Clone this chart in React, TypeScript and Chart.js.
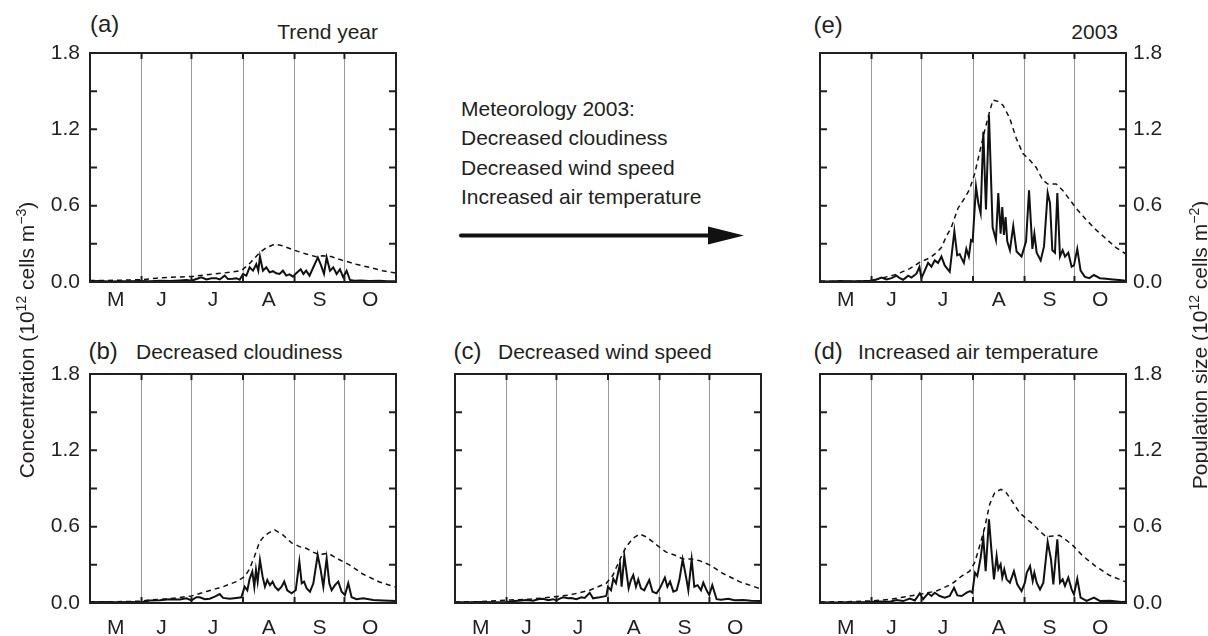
import React, { useEffect, useRef } from "react";
import { Chart, registerables } from "chart.js";

Chart.register(...registerables);

// ---------- axes ----------
const monthLabels = ["M", "J", "J", "A", "S", "O"];
const monthLabelDays = [15.5, 43, 74, 107.5, 138, 168.5];
const monthBoundaryDays = [31, 61, 92, 123, 153];
const dayMin = 0;
const dayMax = 184;
const yMin = 0;
const yMax = 1.8;
const yLabelTicks = [0, 0.6, 1.2, 1.8];
const yMinorTicks = [0.3, 0.6, 0.9, 1.2, 1.5];

// ---------- data: [day since 1 May, value] ----------
// (a) Trend year
const aSolid = [[0,0.005],[6,0.007],[12,0.004],[18,0.006],[24,0.005],[30,0.008],[36,0.006],[42,0.01],[48,0.008],[54,0.012],[58,0.015],[61,0.01],[64,0.023],[67,0.036],[70,0.02],[73,0.03],[76,0.029],[78,0.02],[81,0.05],[83,0.023],[86,0.025],[88,0.03],[90,0.018],[92,0.063],[94,0.05],[96,0.115],[98,0.089],[100,0.14],[101.2,0.089],[102.2,0.2],[104,0.089],[106,0.115],[108,0.076],[110,0.085],[112,0.068],[114,0.063],[116,0.089],[118,0.05],[120,0.06],[122,0.042],[124,0.068],[126.7,0.1],[128.3,0.063],[130,0.089],[132,0.05],[134.7,0.128],[137,0.193],[139,0.128],[140.7,0.063],[142.3,0.193],[144.3,0.089],[146.3,0.115],[148.3,0.063],[150.3,0.1],[152.3,0.037],[154.3,0.089],[156.3,0.016],[159,0.01],[163,0.012],[168,0.008],[174,0.01],[179,0.006],[184,0.005]];
const aDashed = [[0,0.012],[15,0.013],[31,0.018],[40,0.03],[48,0.037],[61,0.044],[70,0.057],[80,0.07],[91,0.089],[96,0.146],[102,0.23],[106,0.27],[111,0.297],[116,0.284],[122,0.253],[130,0.22],[136,0.198],[140,0.206],[145,0.2],[152,0.17],[160,0.14],[168,0.115],[176,0.089],[184,0.07]];

// (b) Decreased cloudiness
const bSolid = [[0,0.006],[8,0.008],[16,0.005],[24,0.007],[31,0.006],[36,0.02],[42,0.022],[48,0.03],[54,0.028],[58,0.037],[61,0.02],[64,0.045],[66,0.045],[69,0.03],[72,0.034],[75,0.05],[78,0.07],[80,0.04],[84,0.034],[88,0.04],[91,0.045],[93,0.128],[94.6,0.1],[96,0.19],[97.6,0.246],[98.8,0.128],[99.8,0.26],[100.8,0.168],[102.2,0.338],[103.8,0.207],[105.2,0.128],[106.6,0.18],[108.2,0.14],[109.8,0.168],[111.2,0.128],[113.2,0.1],[115.2,0.128],[116.8,0.168],[118.6,0.1],[121.2,0.076],[123.7,0.1],[125.9,0.325],[127.3,0.155],[128.7,0.168],[130.3,0.115],[132.3,0.089],[134.3,0.155],[136.9,0.377],[138.7,0.26],[140.3,0.128],[142.3,0.35],[143.9,0.155],[145.3,0.1],[147.3,0.14],[149.3,0.168],[151.3,0.089],[153.3,0.063],[155.3,0.155],[157.3,0.045],[160.3,0.03],[164.3,0.037],[170.3,0.024],[176,0.02],[184,0.015]];
const bDashed = [[0,0.01],[15,0.01],[31,0.014],[36,0.024],[48,0.034],[61,0.055],[70,0.09],[80,0.128],[88,0.168],[93,0.207],[96,0.27],[99,0.37],[102,0.48],[105,0.53],[108,0.555],[111,0.574],[116,0.535],[121,0.475],[126,0.443],[130,0.43],[134,0.4],[138,0.38],[142,0.388],[145,0.377],[150,0.34],[156,0.3],[164,0.228],[174,0.165],[184,0.125]];

// (c) Decreased wind speed
const cSolid = [[0,0.006],[8,0.005],[16,0.007],[24,0.005],[31,0.008],[36,0.015],[40,0.02],[43,0.024],[47,0.018],[50,0.03],[53,0.034],[56,0.022],[59,0.03],[61,0.02],[63,0.035],[65,0.045],[68,0.037],[70,0.04],[73,0.03],[76,0.045],[78,0.04],[81,0.08],[83,0.037],[85,0.042],[87,0.045],[89,0.05],[91,0.055],[92,0.128],[93.8,0.1],[95.2,0.19],[96.8,0.155],[98.2,0.246],[99.2,0.31],[100.2,0.128],[101.8,0.37],[103.2,0.233],[104.4,0.115],[105.8,0.18],[107.2,0.22],[108.8,0.128],[110.2,0.186],[111.8,0.115],[113.8,0.1],[116.8,0.18],[118.8,0.089],[121.2,0.076],[123.2,0.115],[126.2,0.2],[127.7,0.128],[129.3,0.168],[131.3,0.089],[133.3,0.1],[134.9,0.18],[136.9,0.343],[138.9,0.207],[140.3,0.1],[142.3,0.343],[143.9,0.128],[145.9,0.14],[147.9,0.1],[149.3,0.16],[151.3,0.1],[152.9,0.063],[154.7,0.14],[157.3,0.03],[160,0.025],[164.3,0.034],[168,0.022],[173.3,0.024],[178,0.018],[184,0.015]];
const cDashed = [[0,0.008],[15,0.01],[33,0.024],[45,0.03],[57,0.045],[69,0.063],[81,0.1],[91,0.155],[95,0.22],[99,0.338],[103,0.443],[107,0.508],[111,0.542],[115,0.52],[119,0.48],[123,0.438],[127,0.4],[132,0.377],[137,0.346],[142,0.346],[147,0.333],[153,0.3],[161,0.233],[171,0.168],[184,0.11]];

// (d) Increased air temperature
const dSolid = [[0,0.006],[8,0.004],[16,0.006],[24,0.005],[30,0.008],[36,0.012],[42,0.01],[46,0.024],[50,0.015],[54,0.034],[57,0.02],[60,0.076],[62,0.03],[65,0.076],[67,0.055],[69,0.081],[72,0.055],[75,0.042],[78,0.055],[80.6,0.12],[82.6,0.06],[85.2,0.055],[88.2,0.081],[90.2,0.094],[91.6,0.081],[93.2,0.238],[94.6,0.212],[96.6,0.356],[98.2,0.514],[99.6,0.25],[101.6,0.658],[103.2,0.396],[104.6,0.186],[106.2,0.37],[107.2,0.265],[108.6,0.304],[109.6,0.2],[110.8,0.265],[112.2,0.186],[114.2,0.16],[116.6,0.25],[118.6,0.147],[121.2,0.094],[123.2,0.16],[124.3,0.238],[126.3,0.29],[127.9,0.173],[128.9,0.238],[130.3,0.16],[132.3,0.107],[134.3,0.16],[136.9,0.48],[138.9,0.343],[140.3,0.147],[142.7,0.5],[144.3,0.16],[145.9,0.186],[147.3,0.134],[149.3,0.2],[151.3,0.107],[152.7,0.068],[154.7,0.19],[156.7,0.042],[160.3,0.016],[164.7,0.042],[168.3,0.016],[174.3,0.018],[181.4,0.008],[184,0.01]];
const dDashed = [[0,0.008],[15,0.01],[30,0.016],[42,0.029],[52,0.05],[60,0.068],[70,0.094],[79,0.147],[85,0.21],[90,0.25],[93,0.317],[96,0.448],[99,0.59],[102,0.775],[105,0.867],[108.8,0.894],[112,0.867],[116,0.79],[120,0.71],[124,0.663],[128,0.62],[132,0.566],[136,0.52],[140,0.527],[144,0.532],[148,0.495],[152,0.453],[158,0.37],[166,0.286],[174,0.218],[184,0.165]];

// (e) 2003
const eSolid = [[0,0.006],[6,0.004],[12,0.008],[18,0.005],[24,0.006],[30,0.01],[34,0.02],[37,0.035],[40,0.02],[43,0.03],[46,0.05],[48,0.03],[50,0.018],[53,0.05],[55,0.035],[58,0.065],[59.8,0.118],[61,0.03],[63,0.09],[65,0.15],[67,0.12],[69,0.17],[71,0.15],[73,0.2],[75,0.13],[78,0.08],[80.8,0.4],[82.5,0.21],[84,0.22],[85,0.19],[86.5,0.15],[88,0.26],[89.5,0.2],[90.8,0.33],[91.8,0.32],[93.8,0.75],[95.2,0.62],[96.6,0.54],[98.2,1.18],[99.8,0.57],[101.6,1.31],[103.8,0.43],[105.8,0.33],[107.2,0.7],[108.6,0.38],[109.6,0.59],[110.6,0.37],[111.6,0.51],[112.6,0.32],[114.2,0.25],[116.2,0.44],[118.2,0.24],[121.2,0.2],[123.9,0.32],[125.7,0.72],[127.7,0.26],[128.9,0.38],[130.3,0.23],[132.7,0.17],[134.7,0.28],[136.9,0.7],[138.3,0.62],[139.7,0.25],[141.3,0.23],[142.7,0.7],[144.3,0.2],[145.9,0.25],[147.3,0.2],[149.3,0.23],[151.3,0.12],[152.7,0.13],[154.7,0.26],[156.7,0.09],[159.3,0.04],[162,0.03],[164.7,0.055],[168.3,0.03],[172,0.025],[176,0.02],[180,0.015],[184,0.01]];
const eDashed = [[0,0.005],[20,0.006],[31,0.01],[38,0.034],[46,0.06],[54,0.105],[60,0.155],[66,0.19],[70,0.23],[73,0.27],[76,0.36],[79,0.43],[83,0.58],[87,0.66],[90,0.73],[93,0.85],[96,1.02],[99,1.19],[102,1.34],[104,1.43],[107,1.42],[110,1.39],[114,1.29],[118,1.13],[122,1.01],[126,0.96],[130,0.9],[134,0.8],[137,0.77],[142,0.77],[146,0.72],[150,0.65],[154,0.58],[160,0.49],[166,0.41],[172,0.34],[178,0.27],[184,0.22]];

// ---------- styling ----------
const FONT = '"Liberation Sans", Arial, Helvetica, sans-serif';
const INK = "#231f20";
const CANVAS_W = 416;
const CANVAS_H = 279;
const AXIS_L = 60;
const AXIS_R = 50;
const PAD_TOP = 10;
const X_AXIS_H = 40;

const zeroPadding = (s: any) => {
  s.paddingTop = 0;
  s.paddingBottom = 0;
  s.paddingLeft = 0;
  s.paddingRight = 0;
};

const framePlugin = {
  id: "frameTicks",
  afterDatasetsDraw(chart: any) {
    const { ctx, chartArea: a, scales } = chart;
    const xs = scales.x;
    const ys = scales.y;
    ctx.save();
    ctx.strokeStyle = INK;
    ctx.lineWidth = 2;
    ctx.strokeRect(a.left, a.top, a.right - a.left, a.bottom - a.top);
    ctx.beginPath();
    monthBoundaryDays.forEach((d) => {
      const px = xs.getPixelForValue(d);
      ctx.moveTo(px, a.top);
      ctx.lineTo(px, a.top + 6);
      ctx.moveTo(px, a.bottom);
      ctx.lineTo(px, a.bottom - 6);
    });
    yMinorTicks.forEach((v) => {
      const py = ys.getPixelForValue(v);
      ctx.moveTo(a.left, py);
      ctx.lineTo(a.left + 7, py);
      ctx.moveTo(a.right, py);
      ctx.lineTo(a.right - 7, py);
    });
    ctx.stroke();
    ctx.restore();
  },
};

type PanelProps = {
  left: number;
  top: number;
  solid: number[][];
  dashed: number[][];
  axis: "left" | "right" | "none";
  monthPad: number;
};

function Panel({ left, top, solid, dashed, axis, monthPad }: PanelProps) {
  const ref = useRef<HTMLCanvasElement>(null);
  useEffect(() => {
    const onRight = axis === "right";
    const chart = new Chart(ref.current as HTMLCanvasElement, {
      type: "line",
      data: {
        datasets: [
          {
            data: dashed.map(([d, v]) => ({ x: d, y: v })),
            borderColor: "#111",
            borderWidth: 1.5,
            borderDash: [5, 4],
            pointRadius: 0,
            tension: 0,
            fill: false,
          },
          {
            data: solid.map(([d, v]) => ({ x: d, y: v })),
            borderColor: "#111",
            borderWidth: 2,
            pointRadius: 0,
            tension: 0,
            fill: false,
          },
        ],
      },
      options: {
        animation: false,
        responsive: false,
        events: [],
        layout: {
          padding: {
            left: onRight ? AXIS_L : 0,
            right: onRight ? 0 : AXIS_R,
            top: PAD_TOP,
            bottom: 0,
          },
        },
        plugins: { legend: { display: false }, tooltip: { enabled: false } },
        scales: {
          x: {
            type: "linear",
            position: "bottom",
            min: dayMin,
            max: dayMax,
            grid: { display: false, drawTicks: false },
            border: { display: false },
            afterBuildTicks: (s: any) => {
              s.ticks = monthLabelDays.map((v) => ({ value: v }));
            },
            afterFit: (s: any) => {
              s.height = X_AXIS_H;
              zeroPadding(s);
            },
            ticks: {
              autoSkip: false,
              maxRotation: 0,
              minRotation: 0,
              padding: monthPad,
              color: INK,
              font: { family: FONT, size: 21 },
              callback: (_v: any, i: number) => monthLabels[i],
            },
          },
          x2: {
            type: "linear",
            position: "top",
            min: dayMin,
            max: dayMax,
            afterBuildTicks: (s: any) => {
              s.ticks = monthBoundaryDays.map((v) => ({ value: v }));
            },
            afterFit: (s: any) => {
              s.height = 0;
              zeroPadding(s);
            },
            ticks: { display: false },
            grid: { color: "#9a9a9a", lineWidth: 1, drawTicks: false },
            border: { display: false },
          },
          y: {
            type: "linear",
            position: onRight ? "right" : "left",
            min: yMin,
            max: yMax,
            afterBuildTicks: (s: any) => {
              s.ticks = yLabelTicks.map((v) => ({ value: v }));
            },
            afterFit: (s: any) => {
              s.width = onRight ? AXIS_R : AXIS_L;
              zeroPadding(s);
            },
            grid: { display: false, drawTicks: false },
            border: { display: false },
            ticks: {
              display: axis !== "none",
              padding: onRight ? 7 : 10,
              color: INK,
              font: { family: FONT, size: 21 },
              callback: (v: any) => Number(v).toFixed(1),
            },
          },
        },
      } as any,
      plugins: [framePlugin],
    });
    return () => chart.destroy();
  }, []);
  return (
    <canvas
      ref={ref}
      width={CANVAS_W}
      height={CANVAS_H}
      style={{ position: "absolute", left, top, width: CANVAS_W, height: CANVAS_H }}
    />
  );
}

const txt: React.CSSProperties = {
  position: "absolute",
  fontFamily: FONT,
  fontSize: 21,
  lineHeight: "21px",
  color: INK,
  whiteSpace: "nowrap",
};
const tag: React.CSSProperties = { ...txt, fontSize: 24, lineHeight: "24px" };
const sup: React.CSSProperties = { fontSize: 14, lineHeight: 0, verticalAlign: "8px" };

export default function App() {
  return (
    <div
      style={{
        position: "fixed",
        left: 0,
        top: 0,
        width: 1208,
        height: 636,
        overflow: "hidden",
        background: "#fff",
      }}
    >
      <Panel left={30} top={43} solid={aSolid} dashed={aDashed} axis="left" monthPad={6} />
      <Panel left={760} top={43} solid={eSolid} dashed={eDashed} axis="right" monthPad={6} />
      <Panel left={30} top={364} solid={bSolid} dashed={bDashed} axis="left" monthPad={13} />
      <Panel left={395} top={364} solid={cSolid} dashed={cDashed} axis="none" monthPad={13} />
      <Panel left={760} top={364} solid={dSolid} dashed={dDashed} axis="right" monthPad={13} />

      <div style={{ ...tag, left: 90, top: 12 }}>(a)</div>
      <div style={{ ...txt, right: 1208 - 378, top: 21 }}>Trend year</div>
      <div style={{ ...tag, left: 813.5, top: 13 }}>(e)</div>
      <div style={{ ...txt, right: 1208 - 1118, top: 21 }}>2003</div>

      <div style={{ ...tag, left: 88.5, top: 339 }}>(b)</div>
      <div style={{ ...txt, left: 136, top: 341 }}>Decreased cloudiness</div>
      <div style={{ ...tag, left: 453.5, top: 339 }}>(c)</div>
      <div style={{ ...txt, left: 498, top: 341 }}>Decreased wind speed</div>
      <div style={{ ...tag, left: 813.5, top: 339 }}>(d)</div>
      <div style={{ ...txt, left: 858, top: 341 }}>Increased air temperature</div>

      <div style={{ ...txt, left: 461, top: 94, lineHeight: "29.3px" }}>
        <div>Meteorology 2003:</div>
        <div>Decreased cloudiness</div>
        <div>Decreased wind speed</div>
        <div>Increased air temperature</div>
      </div>

      <svg
        width={1208}
        height={636}
        style={{ position: "absolute", left: 0, top: 0, pointerEvents: "none" }}
      >
        <line x1={461} y1={235.5} x2={712} y2={235.5} stroke="#111" strokeWidth={4} strokeLinecap="round" />
        <polygon points="708,226.5 744,235.5 708,244.5" fill="#111" />
      </svg>

      <div
        style={{
          ...txt,
          left: 25.5,
          top: 340,
          transform: "translate(-50%, -50%) rotate(-90deg)",
        }}
      >
        Concentration (10<span style={sup}>12</span> cells m<span style={sup}>−3</span>)
      </div>
      <div
        style={{
          ...txt,
          left: 1199,
          top: 345,
          transform: "translate(-50%, -50%) rotate(-90deg)",
        }}
      >
        Population size (10<span style={sup}>12</span> cells m<span style={sup}>−2</span>)
      </div>
    </div>
  );
}
